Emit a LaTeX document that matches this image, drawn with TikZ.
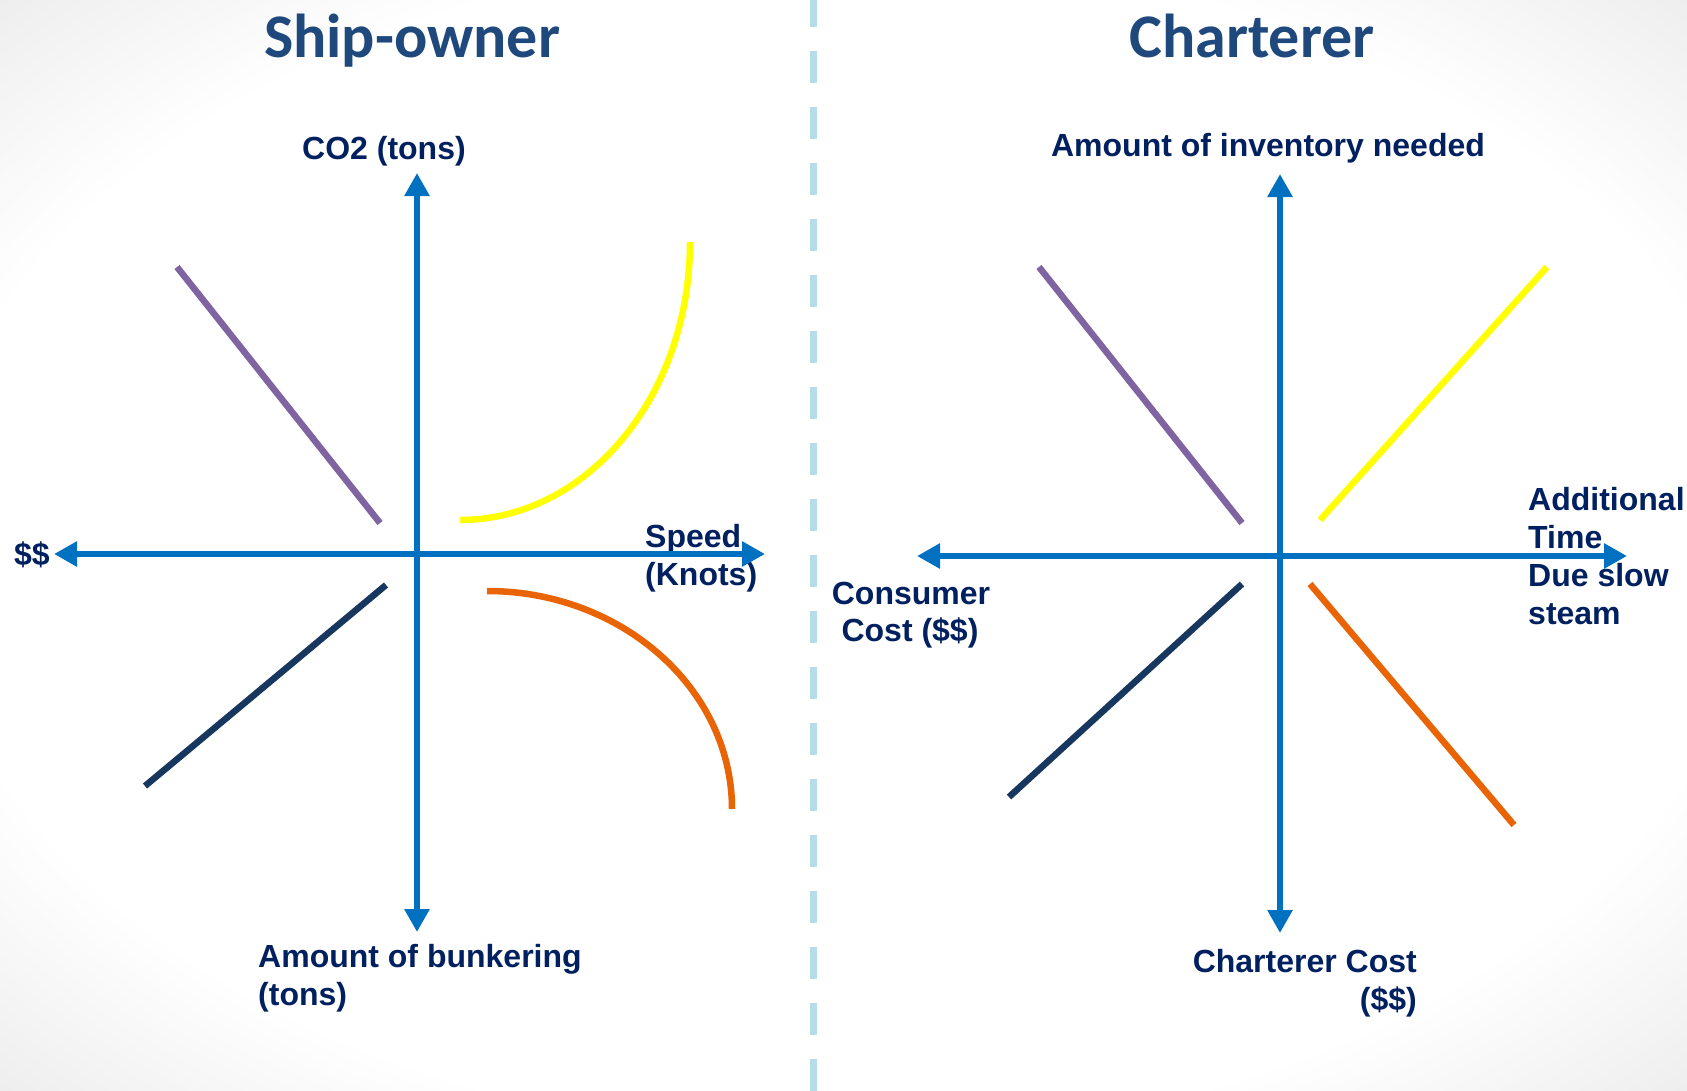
\documentclass[tikz,border=0pt]{standalone}
\usepackage{fontspec}
\setmainfont{Liberation Sans}
\newfontfamily\titlefont{Carlito}
\usetikzlibrary{arrows.meta}
\definecolor{axisblue}{RGB}{0,112,192}
\definecolor{labelnavy}{RGB}{0,32,96}
\definecolor{titleblue}{RGB}{31,73,125}
\definecolor{curvepurple}{RGB}{128,100,162}
\definecolor{curveyellow}{RGB}{255,255,0}
\definecolor{curvenavy}{RGB}{23,55,94}
\definecolor{curveorange}{RGB}{233,100,5}
\definecolor{dividerblue}{RGB}{183,221,232}
\pgfdeclareradialshading{vignette}{\pgfpoint{0bp}{0bp}}{color(0bp)=(white); color(27bp)=(white); color(37bp)=(black!8); color(50bp)=(black!8)}
\tikzset{
  titletext/.style={font=\titlefont\bfseries\fontsize{62}{74}\selectfont, text=titleblue, inner sep=0pt, anchor=base},
  lbl/.style={font=\bfseries\fontsize{32}{38}\selectfont, text=labelnavy, inner sep=0pt},
  axisline/.style={draw=axisblue, line width=6pt},
  axisarrow/.style={axisline, -{Triangle[width=24pt,length=23pt]}},
  axisboth/.style={axisline, {Triangle[width=24pt,length=23pt]}-{Triangle[width=24pt,length=23pt]}},
  curve/.style={line width=6.5pt, line cap=butt},
}
\begin{document}
\begin{tikzpicture}[x=1pt,y=-1pt]
\useasboundingbox (0,0) rectangle (1687,1090);
\shade[shading=vignette] (0,0) rectangle (1687,1090);

% divider
\coordinate (divtop) at (813,-5);
\coordinate (divbot) at (813,1095);
\draw[draw=dividerblue, line width=7pt, dash pattern=on 32pt off 24pt] (divtop) -- (divbot);

% titles
\node[titletext] (t1) at (412,57) {Ship-owner};
\node[titletext] (t2) at (1252,57) {Charterer};

% labels left
\node[lbl, anchor=base] (co2) at (384,159) {CO2 (tons)};
\node[lbl, anchor=base west] (dollars) at (14,565) {\$\$};
\node[lbl, anchor=base west] (speed1) at (645,547) {Speed};
\node[lbl, anchor=base west] (speed2) at (645,585) {(Knots)};
\node[lbl, anchor=base west] (bunk1) at (258,967) {Amount of bunkering};
\node[lbl, anchor=base west] (bunk2) at (258,1005) {(tons)};

% labels right
\node[lbl, anchor=base] (inv) at (1268,156) {Amount of inventory needed};
\node[lbl, anchor=base west] (add1) at (1528,510) {Additional};
\node[lbl, anchor=base west] (add2) at (1528,548) {Time};
\node[lbl, anchor=base west] (add3) at (1528,586) {Due slow};
\node[lbl, anchor=base west] (add4) at (1528,624) {steam};
\node[lbl, anchor=base] (cons1) at (911,604) {Consumer};
\node[lbl, anchor=base] (cons2) at (910,641) {Cost (\$\$)};
\node[lbl, anchor=base east] (cc1) at (1417,972) {Charterer Cost};
\node[lbl, anchor=base east] (cc2) at (1417,1010) {(\$\$)};

% axes left
\coordinate (LO) at (417,554);
\coordinate (LVtop) at (417,173);
\coordinate (LVbot) at (417,932);
\coordinate (LHleft) at (54,554);
\coordinate (LHright) at (765,554);
\draw[axisarrow] (LO) -- (LVtop);
\draw[axisarrow] (LO) -- (LVbot);
\draw[axisboth] (LHleft) -- (LHright);

% axes right
\coordinate (RO) at (1280,556);
\coordinate (RVtop) at (1280,174);
\coordinate (RVbot) at (1280,933);
\coordinate (RHleft) at (917,556);
\coordinate (RHright) at (1627,556);
\draw[axisarrow] (RO) -- (RVtop);
\draw[axisarrow] (RO) -- (RVbot);
\draw[axisboth] (RHleft) -- (RHright);

% left curves
\coordinate (lp1) at (177,267); \coordinate (lp2) at (380,523);
\draw[curve, draw=curvepurple] (lp1) -- (lp2);
\coordinate (ly1) at (460,520); \coordinate (ly2) at (690,242);
\draw[curve, draw=curveyellow] (ly1) .. controls (587,520) and (690,396) .. (ly2);
\coordinate (ln1) at (145,786); \coordinate (ln2) at (386,585);
\draw[curve, draw=curvenavy] (ln1) -- (ln2);
\coordinate (lo1) at (487,591); \coordinate (lo2) at (732,809);
\draw[curve, draw=curveorange] (lo1) .. controls (622,591) and (732,689) .. (lo2);

% right lines
\coordinate (rp1) at (1039,267); \coordinate (rp2) at (1242,523);
\draw[curve, draw=curvepurple] (rp1) -- (rp2);
\coordinate (ry1) at (1320,520); \coordinate (ry2) at (1547,267);
\draw[curve, draw=curveyellow] (ry1) -- (ry2);
\coordinate (rn1) at (1009,797); \coordinate (rn2) at (1242,584);
\draw[curve, draw=curvenavy] (rn1) -- (rn2);
\coordinate (ro1) at (1310,584); \coordinate (ro2) at (1514,825);
\draw[curve, draw=curveorange] (ro1) -- (ro2);
\end{tikzpicture}
\end{document}
